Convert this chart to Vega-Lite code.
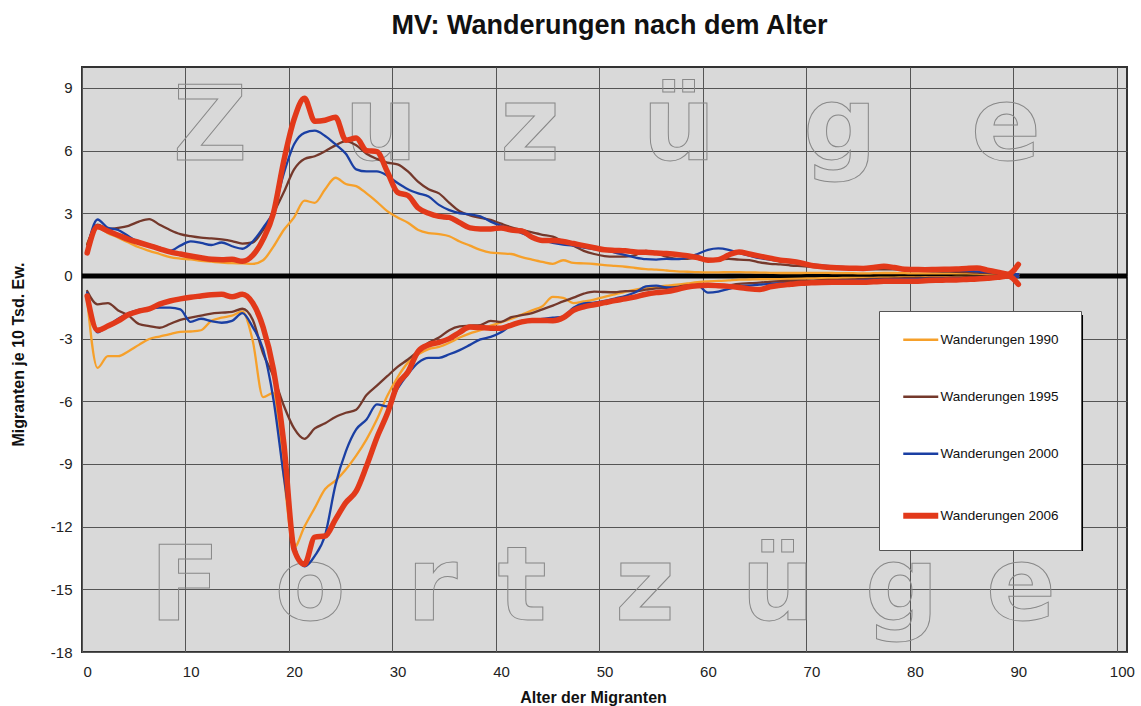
{
"$schema":"https://vega.github.io/schema/vega-lite/v6.json",
"width":1045,"height":585,
"autosize":"none",
"padding":{"left":82,"top":67,"right":14,"bottom":54},
"background":"#ffffff",
"title":{"text":"MV: Wanderungen nach dem Alter","fontSize":27,"fontWeight":"bold","font":"Liberation Sans","color":"#111111","anchor":"middle","offset":27,"dx":5},
"config":{"view":{"fill":"#d9d9d9","stroke":"#333333","strokeWidth":2},"font":"Liberation Sans",
 "axis":{"ticks":false,"domain":false,"grid":true,"gridColor":"#555555","gridWidth":1,"gridOpacity":1,"labelFont":"Liberation Sans","labelFontSize":15,"labelColor":"#222222","titleFont":"Liberation Sans","titleFontSize":16,"titleFontWeight":"bold","titleColor":"#111111"}},
"datasets":{
"wm":[
{"t":"Z","a":11.87,"v":5.55},{"t":"u","a":28.4,"v":5.55},{"t":"z","a":42.8,"v":5.55},{"t":"ü","a":57.2,"v":5.55},{"t":"g","a":72.76,"v":5.55},{"t":"e","a":88.8,"v":5.55},
{"t":"F","a":9.45,"v":-16.47},{"t":"o","a":21.54,"v":-16.47},{"t":"r","a":33.33,"v":-16.47},{"t":"t","a":42.03,"v":-16.47},{"t":"z","a":53.9,"v":-16.47},{"t":"ü","a":66.77,"v":-16.47},{"t":"g","a":78.75,"v":-16.47},{"t":"e","a":90.25,"v":-16.47}
],
"m":[
{"a":0,"s":"1990","r":"Z","v":1.55},{"a":1,"s":"1990","r":"Z","v":2.3},{"a":2,"s":"1990","r":"Z","v":2.05},{"a":3,"s":"1990","r":"Z","v":1.83},{"a":4,"s":"1990","r":"Z","v":1.6},{"a":5,"s":"1990","r":"Z","v":1.37},{"a":6,"s":"1990","r":"Z","v":1.2},{"a":7,"s":"1990","r":"Z","v":1.05},{"a":8,"s":"1990","r":"Z","v":0.9},{"a":9,"s":"1990","r":"Z","v":0.83},
{"a":10,"s":"1990","r":"Z","v":0.79},{"a":11,"s":"1990","r":"Z","v":0.72},{"a":12,"s":"1990","r":"Z","v":0.68},{"a":13,"s":"1990","r":"Z","v":0.64},{"a":14,"s":"1990","r":"Z","v":0.61},{"a":15,"s":"1990","r":"Z","v":0.6},{"a":16,"s":"1990","r":"Z","v":0.58},{"a":17,"s":"1990","r":"Z","v":0.75},{"a":18,"s":"1990","r":"Z","v":1.4},{"a":19,"s":"1990","r":"Z","v":2.2},
{"a":20,"s":"1990","r":"Z","v":2.8},{"a":21,"s":"1990","r":"Z","v":3.6},{"a":22,"s":"1990","r":"Z","v":3.5},{"a":23,"s":"1990","r":"Z","v":4.15},{"a":24,"s":"1990","r":"Z","v":4.7},{"a":25,"s":"1990","r":"Z","v":4.4},{"a":26,"s":"1990","r":"Z","v":4.3},{"a":27,"s":"1990","r":"Z","v":3.95},{"a":28,"s":"1990","r":"Z","v":3.55},{"a":29,"s":"1990","r":"Z","v":3.1},
{"a":30,"s":"1990","r":"Z","v":2.8},{"a":31,"s":"1990","r":"Z","v":2.55},{"a":32,"s":"1990","r":"Z","v":2.2},{"a":33,"s":"1990","r":"Z","v":2.05},{"a":34,"s":"1990","r":"Z","v":2.0},{"a":35,"s":"1990","r":"Z","v":1.9},{"a":36,"s":"1990","r":"Z","v":1.65},{"a":37,"s":"1990","r":"Z","v":1.45},{"a":38,"s":"1990","r":"Z","v":1.25},{"a":39,"s":"1990","r":"Z","v":1.12},
{"a":40,"s":"1990","r":"Z","v":1.08},{"a":41,"s":"1990","r":"Z","v":1.05},{"a":42,"s":"1990","r":"Z","v":0.9},{"a":43,"s":"1990","r":"Z","v":0.78},{"a":44,"s":"1990","r":"Z","v":0.67},{"a":45,"s":"1990","r":"Z","v":0.58},{"a":46,"s":"1990","r":"Z","v":0.75},{"a":47,"s":"1990","r":"Z","v":0.62},{"a":48,"s":"1990","r":"Z","v":0.6},{"a":49,"s":"1990","r":"Z","v":0.57},
{"a":50,"s":"1990","r":"Z","v":0.52},{"a":51,"s":"1990","r":"Z","v":0.48},{"a":52,"s":"1990","r":"Z","v":0.44},{"a":53,"s":"1990","r":"Z","v":0.38},{"a":54,"s":"1990","r":"Z","v":0.33},{"a":55,"s":"1990","r":"Z","v":0.3},{"a":56,"s":"1990","r":"Z","v":0.26},{"a":57,"s":"1990","r":"Z","v":0.22},{"a":58,"s":"1990","r":"Z","v":0.2},{"a":59,"s":"1990","r":"Z","v":0.18},
{"a":60,"s":"1990","r":"Z","v":0.17},{"a":61,"s":"1990","r":"Z","v":0.17},{"a":62,"s":"1990","r":"Z","v":0.18},{"a":63,"s":"1990","r":"Z","v":0.18},{"a":64,"s":"1990","r":"Z","v":0.17},{"a":65,"s":"1990","r":"Z","v":0.16},{"a":66,"s":"1990","r":"Z","v":0.15},{"a":67,"s":"1990","r":"Z","v":0.14},{"a":68,"s":"1990","r":"Z","v":0.14},{"a":69,"s":"1990","r":"Z","v":0.14},
{"a":70,"s":"1990","r":"Z","v":0.15},{"a":71,"s":"1990","r":"Z","v":0.15},{"a":72,"s":"1990","r":"Z","v":0.14},{"a":73,"s":"1990","r":"Z","v":0.13},{"a":74,"s":"1990","r":"Z","v":0.13},{"a":75,"s":"1990","r":"Z","v":0.12},{"a":76,"s":"1990","r":"Z","v":0.13},{"a":77,"s":"1990","r":"Z","v":0.14},{"a":78,"s":"1990","r":"Z","v":0.14},{"a":79,"s":"1990","r":"Z","v":0.13},
{"a":80,"s":"1990","r":"Z","v":0.12},{"a":81,"s":"1990","r":"Z","v":0.12},{"a":82,"s":"1990","r":"Z","v":0.12},{"a":83,"s":"1990","r":"Z","v":0.12},{"a":84,"s":"1990","r":"Z","v":0.12},{"a":85,"s":"1990","r":"Z","v":0.12},{"a":86,"s":"1990","r":"Z","v":0.11},{"a":87,"s":"1990","r":"Z","v":0.1},{"a":88,"s":"1990","r":"Z","v":0.09},{"a":89,"s":"1990","r":"Z","v":0.08},{"a":90,"s":"1990","r":"Z","v":0.07},
{"a":0,"s":"1990","r":"F","v":-1.12},{"a":1,"s":"1990","r":"F","v":-4.4},{"a":2,"s":"1990","r":"F","v":-3.84},{"a":3,"s":"1990","r":"F","v":-3.84},{"a":4,"s":"1990","r":"F","v":-3.6},{"a":5,"s":"1990","r":"F","v":-3.3},{"a":6,"s":"1990","r":"F","v":-3.02},{"a":7,"s":"1990","r":"F","v":-2.9},{"a":8,"s":"1990","r":"F","v":-2.78},{"a":9,"s":"1990","r":"F","v":-2.68},
{"a":10,"s":"1990","r":"F","v":-2.66},{"a":11,"s":"1990","r":"F","v":-2.6},{"a":12,"s":"1990","r":"F","v":-2.15},{"a":13,"s":"1990","r":"F","v":-2.0},{"a":14,"s":"1990","r":"F","v":-1.9},{"a":15,"s":"1990","r":"F","v":-1.7},{"a":16,"s":"1990","r":"F","v":-3.1},{"a":17,"s":"1990","r":"F","v":-5.8},{"a":18,"s":"1990","r":"F","v":-5.6},{"a":19,"s":"1990","r":"F","v":-9.6},
{"a":20,"s":"1990","r":"F","v":-13.0},{"a":21,"s":"1990","r":"F","v":-12.0},{"a":22,"s":"1990","r":"F","v":-11.1},{"a":23,"s":"1990","r":"F","v":-10.2},{"a":24,"s":"1990","r":"F","v":-9.8},{"a":25,"s":"1990","r":"F","v":-9.26},{"a":26,"s":"1990","r":"F","v":-8.6},{"a":27,"s":"1990","r":"F","v":-7.82},{"a":28,"s":"1990","r":"F","v":-6.87},{"a":29,"s":"1990","r":"F","v":-5.75},
{"a":30,"s":"1990","r":"F","v":-4.85},{"a":31,"s":"1990","r":"F","v":-4.15},{"a":32,"s":"1990","r":"F","v":-3.75},{"a":33,"s":"1990","r":"F","v":-3.5},{"a":34,"s":"1990","r":"F","v":-3.4},{"a":35,"s":"1990","r":"F","v":-3.2},{"a":36,"s":"1990","r":"F","v":-2.95},{"a":37,"s":"1990","r":"F","v":-2.75},{"a":38,"s":"1990","r":"F","v":-2.6},{"a":39,"s":"1990","r":"F","v":-2.38},
{"a":40,"s":"1990","r":"F","v":-2.22},{"a":41,"s":"1990","r":"F","v":-2.05},{"a":42,"s":"1990","r":"F","v":-1.85},{"a":43,"s":"1990","r":"F","v":-1.65},{"a":44,"s":"1990","r":"F","v":-1.45},{"a":45,"s":"1990","r":"F","v":-1.0},{"a":46,"s":"1990","r":"F","v":-1.05},{"a":47,"s":"1990","r":"F","v":-1.3},{"a":48,"s":"1990","r":"F","v":-1.22},{"a":49,"s":"1990","r":"F","v":-1.13},
{"a":50,"s":"1990","r":"F","v":-1.0},{"a":51,"s":"1990","r":"F","v":-0.88},{"a":52,"s":"1990","r":"F","v":-0.76},{"a":53,"s":"1990","r":"F","v":-0.65},{"a":54,"s":"1990","r":"F","v":-0.57},{"a":55,"s":"1990","r":"F","v":-0.52},{"a":56,"s":"1990","r":"F","v":-0.47},{"a":57,"s":"1990","r":"F","v":-0.42},{"a":58,"s":"1990","r":"F","v":-0.36},{"a":59,"s":"1990","r":"F","v":-0.3},
{"a":60,"s":"1990","r":"F","v":-0.26},{"a":61,"s":"1990","r":"F","v":-0.24},{"a":62,"s":"1990","r":"F","v":-0.21},{"a":63,"s":"1990","r":"F","v":-0.18},{"a":64,"s":"1990","r":"F","v":-0.17},{"a":65,"s":"1990","r":"F","v":-0.16},{"a":66,"s":"1990","r":"F","v":-0.16},{"a":67,"s":"1990","r":"F","v":-0.15},{"a":68,"s":"1990","r":"F","v":-0.14},{"a":69,"s":"1990","r":"F","v":-0.13},
{"a":70,"s":"1990","r":"F","v":-0.12},{"a":71,"s":"1990","r":"F","v":-0.11},{"a":72,"s":"1990","r":"F","v":-0.11},{"a":73,"s":"1990","r":"F","v":-0.1},{"a":74,"s":"1990","r":"F","v":-0.1},{"a":75,"s":"1990","r":"F","v":-0.09},{"a":76,"s":"1990","r":"F","v":-0.09},{"a":77,"s":"1990","r":"F","v":-0.08},{"a":78,"s":"1990","r":"F","v":-0.08},{"a":79,"s":"1990","r":"F","v":-0.07},
{"a":80,"s":"1990","r":"F","v":-0.07},{"a":81,"s":"1990","r":"F","v":-0.06},{"a":82,"s":"1990","r":"F","v":-0.06},{"a":83,"s":"1990","r":"F","v":-0.06},{"a":84,"s":"1990","r":"F","v":-0.05},{"a":85,"s":"1990","r":"F","v":-0.05},{"a":86,"s":"1990","r":"F","v":-0.05},{"a":87,"s":"1990","r":"F","v":-0.04},{"a":88,"s":"1990","r":"F","v":-0.04},{"a":89,"s":"1990","r":"F","v":-0.03},{"a":90,"s":"1990","r":"F","v":-0.03},
{"a":0,"s":"1995","r":"Z","v":1.5},{"a":1,"s":"1995","r":"Z","v":2.45},{"a":2,"s":"1995","r":"Z","v":2.25},{"a":3,"s":"1995","r":"Z","v":2.3},{"a":4,"s":"1995","r":"Z","v":2.4},{"a":5,"s":"1995","r":"Z","v":2.6},{"a":6,"s":"1995","r":"Z","v":2.72},{"a":7,"s":"1995","r":"Z","v":2.45},{"a":8,"s":"1995","r":"Z","v":2.2},{"a":9,"s":"1995","r":"Z","v":2.0},
{"a":10,"s":"1995","r":"Z","v":1.9},{"a":11,"s":"1995","r":"Z","v":1.83},{"a":12,"s":"1995","r":"Z","v":1.8},{"a":13,"s":"1995","r":"Z","v":1.75},{"a":14,"s":"1995","r":"Z","v":1.67},{"a":15,"s":"1995","r":"Z","v":1.55},{"a":16,"s":"1995","r":"Z","v":1.6},{"a":17,"s":"1995","r":"Z","v":2.2},{"a":18,"s":"1995","r":"Z","v":3.0},{"a":19,"s":"1995","r":"Z","v":4.0},
{"a":20,"s":"1995","r":"Z","v":5.1},{"a":21,"s":"1995","r":"Z","v":5.6},{"a":22,"s":"1995","r":"Z","v":5.73},{"a":23,"s":"1995","r":"Z","v":5.97},{"a":24,"s":"1995","r":"Z","v":6.25},{"a":25,"s":"1995","r":"Z","v":6.45},{"a":26,"s":"1995","r":"Z","v":6.25},{"a":27,"s":"1995","r":"Z","v":5.85},{"a":28,"s":"1995","r":"Z","v":5.6},{"a":29,"s":"1995","r":"Z","v":5.42},
{"a":30,"s":"1995","r":"Z","v":5.34},{"a":31,"s":"1995","r":"Z","v":5.0},{"a":32,"s":"1995","r":"Z","v":4.5},{"a":33,"s":"1995","r":"Z","v":4.15},{"a":34,"s":"1995","r":"Z","v":3.95},{"a":35,"s":"1995","r":"Z","v":3.5},{"a":36,"s":"1995","r":"Z","v":3.1},{"a":37,"s":"1995","r":"Z","v":2.9},{"a":38,"s":"1995","r":"Z","v":2.78},{"a":39,"s":"1995","r":"Z","v":2.68},
{"a":40,"s":"1995","r":"Z","v":2.5},{"a":41,"s":"1995","r":"Z","v":2.33},{"a":42,"s":"1995","r":"Z","v":2.2},{"a":43,"s":"1995","r":"Z","v":2.08},{"a":44,"s":"1995","r":"Z","v":1.97},{"a":45,"s":"1995","r":"Z","v":1.88},{"a":46,"s":"1995","r":"Z","v":1.65},{"a":47,"s":"1995","r":"Z","v":1.45},{"a":48,"s":"1995","r":"Z","v":1.2},{"a":49,"s":"1995","r":"Z","v":1.05},
{"a":50,"s":"1995","r":"Z","v":0.95},{"a":51,"s":"1995","r":"Z","v":0.92},{"a":52,"s":"1995","r":"Z","v":0.93},{"a":53,"s":"1995","r":"Z","v":1.0},{"a":54,"s":"1995","r":"Z","v":1.2},{"a":55,"s":"1995","r":"Z","v":1.1},{"a":56,"s":"1995","r":"Z","v":0.92},{"a":57,"s":"1995","r":"Z","v":0.82},{"a":58,"s":"1995","r":"Z","v":0.82},{"a":59,"s":"1995","r":"Z","v":0.88},
{"a":60,"s":"1995","r":"Z","v":0.82},{"a":61,"s":"1995","r":"Z","v":0.8},{"a":62,"s":"1995","r":"Z","v":0.82},{"a":63,"s":"1995","r":"Z","v":0.78},{"a":64,"s":"1995","r":"Z","v":0.76},{"a":65,"s":"1995","r":"Z","v":0.65},{"a":66,"s":"1995","r":"Z","v":0.58},{"a":67,"s":"1995","r":"Z","v":0.55},{"a":68,"s":"1995","r":"Z","v":0.5},{"a":69,"s":"1995","r":"Z","v":0.47},
{"a":70,"s":"1995","r":"Z","v":0.44},{"a":71,"s":"1995","r":"Z","v":0.42},{"a":72,"s":"1995","r":"Z","v":0.4},{"a":73,"s":"1995","r":"Z","v":0.38},{"a":74,"s":"1995","r":"Z","v":0.35},{"a":75,"s":"1995","r":"Z","v":0.33},{"a":76,"s":"1995","r":"Z","v":0.32},{"a":77,"s":"1995","r":"Z","v":0.32},{"a":78,"s":"1995","r":"Z","v":0.32},{"a":79,"s":"1995","r":"Z","v":0.3},
{"a":80,"s":"1995","r":"Z","v":0.26},{"a":81,"s":"1995","r":"Z","v":0.24},{"a":82,"s":"1995","r":"Z","v":0.22},{"a":83,"s":"1995","r":"Z","v":0.21},{"a":84,"s":"1995","r":"Z","v":0.2},{"a":85,"s":"1995","r":"Z","v":0.18},{"a":86,"s":"1995","r":"Z","v":0.16},{"a":87,"s":"1995","r":"Z","v":0.13},{"a":88,"s":"1995","r":"Z","v":0.1},{"a":89,"s":"1995","r":"Z","v":0.08},{"a":90,"s":"1995","r":"Z","v":0.06},
{"a":0,"s":"1995","r":"F","v":-0.72},{"a":1,"s":"1995","r":"F","v":-1.36},{"a":2,"s":"1995","r":"F","v":-1.3},{"a":3,"s":"1995","r":"F","v":-1.65},{"a":4,"s":"1995","r":"F","v":-1.9},{"a":5,"s":"1995","r":"F","v":-2.3},{"a":6,"s":"1995","r":"F","v":-2.4},{"a":7,"s":"1995","r":"F","v":-2.48},{"a":8,"s":"1995","r":"F","v":-2.3},{"a":9,"s":"1995","r":"F","v":-2.1},
{"a":10,"s":"1995","r":"F","v":-2.0},{"a":11,"s":"1995","r":"F","v":-1.9},{"a":12,"s":"1995","r":"F","v":-1.8},{"a":13,"s":"1995","r":"F","v":-1.76},{"a":14,"s":"1995","r":"F","v":-1.72},{"a":15,"s":"1995","r":"F","v":-1.57},{"a":16,"s":"1995","r":"F","v":-2.1},{"a":17,"s":"1995","r":"F","v":-3.7},{"a":18,"s":"1995","r":"F","v":-4.8},{"a":19,"s":"1995","r":"F","v":-6.2},
{"a":20,"s":"1995","r":"F","v":-7.3},{"a":21,"s":"1995","r":"F","v":-7.8},{"a":22,"s":"1995","r":"F","v":-7.3},{"a":23,"s":"1995","r":"F","v":-7.05},{"a":24,"s":"1995","r":"F","v":-6.75},{"a":25,"s":"1995","r":"F","v":-6.55},{"a":26,"s":"1995","r":"F","v":-6.4},{"a":27,"s":"1995","r":"F","v":-5.7},{"a":28,"s":"1995","r":"F","v":-5.25},{"a":29,"s":"1995","r":"F","v":-4.8},
{"a":30,"s":"1995","r":"F","v":-4.35},{"a":31,"s":"1995","r":"F","v":-4.0},{"a":32,"s":"1995","r":"F","v":-3.6},{"a":33,"s":"1995","r":"F","v":-3.2},{"a":34,"s":"1995","r":"F","v":-2.95},{"a":35,"s":"1995","r":"F","v":-2.6},{"a":36,"s":"1995","r":"F","v":-2.42},{"a":37,"s":"1995","r":"F","v":-2.38},{"a":38,"s":"1995","r":"F","v":-2.35},{"a":39,"s":"1995","r":"F","v":-2.15},
{"a":40,"s":"1995","r":"F","v":-2.2},{"a":41,"s":"1995","r":"F","v":-1.97},{"a":42,"s":"1995","r":"F","v":-1.88},{"a":43,"s":"1995","r":"F","v":-1.78},{"a":44,"s":"1995","r":"F","v":-1.6},{"a":45,"s":"1995","r":"F","v":-1.42},{"a":46,"s":"1995","r":"F","v":-1.22},{"a":47,"s":"1995","r":"F","v":-1.04},{"a":48,"s":"1995","r":"F","v":-0.85},{"a":49,"s":"1995","r":"F","v":-0.75},
{"a":50,"s":"1995","r":"F","v":-0.77},{"a":51,"s":"1995","r":"F","v":-0.78},{"a":52,"s":"1995","r":"F","v":-0.73},{"a":53,"s":"1995","r":"F","v":-0.73},{"a":54,"s":"1995","r":"F","v":-0.66},{"a":55,"s":"1995","r":"F","v":-0.6},{"a":56,"s":"1995","r":"F","v":-0.57},{"a":57,"s":"1995","r":"F","v":-0.52},{"a":58,"s":"1995","r":"F","v":-0.45},{"a":59,"s":"1995","r":"F","v":-0.45},
{"a":60,"s":"1995","r":"F","v":-0.52},{"a":61,"s":"1995","r":"F","v":-0.52},{"a":62,"s":"1995","r":"F","v":-0.45},{"a":63,"s":"1995","r":"F","v":-0.38},{"a":64,"s":"1995","r":"F","v":-0.35},{"a":65,"s":"1995","r":"F","v":-0.32},{"a":66,"s":"1995","r":"F","v":-0.28},{"a":67,"s":"1995","r":"F","v":-0.25},{"a":68,"s":"1995","r":"F","v":-0.24},{"a":69,"s":"1995","r":"F","v":-0.23},
{"a":70,"s":"1995","r":"F","v":-0.22},{"a":71,"s":"1995","r":"F","v":-0.2},{"a":72,"s":"1995","r":"F","v":-0.19},{"a":73,"s":"1995","r":"F","v":-0.18},{"a":74,"s":"1995","r":"F","v":-0.17},{"a":75,"s":"1995","r":"F","v":-0.15},{"a":76,"s":"1995","r":"F","v":-0.14},{"a":77,"s":"1995","r":"F","v":-0.13},{"a":78,"s":"1995","r":"F","v":-0.12},{"a":79,"s":"1995","r":"F","v":-0.11},
{"a":80,"s":"1995","r":"F","v":-0.1},{"a":81,"s":"1995","r":"F","v":-0.09},{"a":82,"s":"1995","r":"F","v":-0.08},{"a":83,"s":"1995","r":"F","v":-0.08},{"a":84,"s":"1995","r":"F","v":-0.07},{"a":85,"s":"1995","r":"F","v":-0.06},{"a":86,"s":"1995","r":"F","v":-0.05},{"a":87,"s":"1995","r":"F","v":-0.05},{"a":88,"s":"1995","r":"F","v":-0.04},{"a":89,"s":"1995","r":"F","v":-0.03},{"a":90,"s":"1995","r":"F","v":-0.03},
{"a":0,"s":"2000","r":"Z","v":1.27},{"a":1,"s":"2000","r":"Z","v":2.7},{"a":2,"s":"2000","r":"Z","v":2.3},{"a":3,"s":"2000","r":"Z","v":2.2},{"a":4,"s":"2000","r":"Z","v":1.9},{"a":5,"s":"2000","r":"Z","v":1.6},{"a":6,"s":"2000","r":"Z","v":1.5},{"a":7,"s":"2000","r":"Z","v":1.35},{"a":8,"s":"2000","r":"Z","v":1.2},{"a":9,"s":"2000","r":"Z","v":1.45},
{"a":10,"s":"2000","r":"Z","v":1.65},{"a":11,"s":"2000","r":"Z","v":1.58},{"a":12,"s":"2000","r":"Z","v":1.48},{"a":13,"s":"2000","r":"Z","v":1.6},{"a":14,"s":"2000","r":"Z","v":1.42},{"a":15,"s":"2000","r":"Z","v":1.3},{"a":16,"s":"2000","r":"Z","v":1.65},{"a":17,"s":"2000","r":"Z","v":2.3},{"a":18,"s":"2000","r":"Z","v":3.1},{"a":19,"s":"2000","r":"Z","v":4.9},
{"a":20,"s":"2000","r":"Z","v":6.3},{"a":21,"s":"2000","r":"Z","v":6.85},{"a":22,"s":"2000","r":"Z","v":6.95},{"a":23,"s":"2000","r":"Z","v":6.7},{"a":24,"s":"2000","r":"Z","v":6.3},{"a":25,"s":"2000","r":"Z","v":5.85},{"a":26,"s":"2000","r":"Z","v":5.1},{"a":27,"s":"2000","r":"Z","v":5.0},{"a":28,"s":"2000","r":"Z","v":5.0},{"a":29,"s":"2000","r":"Z","v":4.8},
{"a":30,"s":"2000","r":"Z","v":4.45},{"a":31,"s":"2000","r":"Z","v":4.15},{"a":32,"s":"2000","r":"Z","v":3.95},{"a":33,"s":"2000","r":"Z","v":3.8},{"a":34,"s":"2000","r":"Z","v":3.4},{"a":35,"s":"2000","r":"Z","v":3.15},{"a":36,"s":"2000","r":"Z","v":3.0},{"a":37,"s":"2000","r":"Z","v":2.95},{"a":38,"s":"2000","r":"Z","v":2.85},{"a":39,"s":"2000","r":"Z","v":2.6},
{"a":40,"s":"2000","r":"Z","v":2.4},{"a":41,"s":"2000","r":"Z","v":2.25},{"a":42,"s":"2000","r":"Z","v":2.05},{"a":43,"s":"2000","r":"Z","v":1.85},{"a":44,"s":"2000","r":"Z","v":1.72},{"a":45,"s":"2000","r":"Z","v":1.58},{"a":46,"s":"2000","r":"Z","v":1.5},{"a":47,"s":"2000","r":"Z","v":1.45},{"a":48,"s":"2000","r":"Z","v":1.35},{"a":49,"s":"2000","r":"Z","v":1.28},
{"a":50,"s":"2000","r":"Z","v":1.22},{"a":51,"s":"2000","r":"Z","v":1.12},{"a":52,"s":"2000","r":"Z","v":1.0},{"a":53,"s":"2000","r":"Z","v":0.88},{"a":54,"s":"2000","r":"Z","v":0.8},{"a":55,"s":"2000","r":"Z","v":0.78},{"a":56,"s":"2000","r":"Z","v":0.82},{"a":57,"s":"2000","r":"Z","v":0.8},{"a":58,"s":"2000","r":"Z","v":0.88},{"a":59,"s":"2000","r":"Z","v":1.05},
{"a":60,"s":"2000","r":"Z","v":1.25},{"a":61,"s":"2000","r":"Z","v":1.32},{"a":62,"s":"2000","r":"Z","v":1.25},{"a":63,"s":"2000","r":"Z","v":1.1},{"a":64,"s":"2000","r":"Z","v":0.97},{"a":65,"s":"2000","r":"Z","v":0.85},{"a":66,"s":"2000","r":"Z","v":0.78},{"a":67,"s":"2000","r":"Z","v":0.7},{"a":68,"s":"2000","r":"Z","v":0.65},{"a":69,"s":"2000","r":"Z","v":0.58},
{"a":70,"s":"2000","r":"Z","v":0.55},{"a":71,"s":"2000","r":"Z","v":0.5},{"a":72,"s":"2000","r":"Z","v":0.47},{"a":73,"s":"2000","r":"Z","v":0.43},{"a":74,"s":"2000","r":"Z","v":0.4},{"a":75,"s":"2000","r":"Z","v":0.37},{"a":76,"s":"2000","r":"Z","v":0.42},{"a":77,"s":"2000","r":"Z","v":0.45},{"a":78,"s":"2000","r":"Z","v":0.38},{"a":79,"s":"2000","r":"Z","v":0.32},
{"a":80,"s":"2000","r":"Z","v":0.3},{"a":81,"s":"2000","r":"Z","v":0.28},{"a":82,"s":"2000","r":"Z","v":0.25},{"a":83,"s":"2000","r":"Z","v":0.26},{"a":84,"s":"2000","r":"Z","v":0.28},{"a":85,"s":"2000","r":"Z","v":0.26},{"a":86,"s":"2000","r":"Z","v":0.22},{"a":87,"s":"2000","r":"Z","v":0.18},{"a":88,"s":"2000","r":"Z","v":0.14},{"a":89,"s":"2000","r":"Z","v":0.1},{"a":90,"s":"2000","r":"Z","v":0.08},
{"a":0,"s":"2000","r":"F","v":-0.8},{"a":1,"s":"2000","r":"F","v":-2.7},{"a":2,"s":"2000","r":"F","v":-2.4},{"a":3,"s":"2000","r":"F","v":-2.05},{"a":4,"s":"2000","r":"F","v":-1.78},{"a":5,"s":"2000","r":"F","v":-1.62},{"a":6,"s":"2000","r":"F","v":-1.56},{"a":7,"s":"2000","r":"F","v":-1.52},{"a":8,"s":"2000","r":"F","v":-1.52},{"a":9,"s":"2000","r":"F","v":-1.6},
{"a":10,"s":"2000","r":"F","v":-2.2},{"a":11,"s":"2000","r":"F","v":-2.05},{"a":12,"s":"2000","r":"F","v":-2.16},{"a":13,"s":"2000","r":"F","v":-2.24},{"a":14,"s":"2000","r":"F","v":-2.15},{"a":15,"s":"2000","r":"F","v":-1.78},{"a":16,"s":"2000","r":"F","v":-2.45},{"a":17,"s":"2000","r":"F","v":-3.5},{"a":18,"s":"2000","r":"F","v":-5.9},{"a":19,"s":"2000","r":"F","v":-9.57},
{"a":20,"s":"2000","r":"F","v":-12.8},{"a":21,"s":"2000","r":"F","v":-13.9},{"a":22,"s":"2000","r":"F","v":-13.4},{"a":23,"s":"2000","r":"F","v":-12.4},{"a":24,"s":"2000","r":"F","v":-10.0},{"a":25,"s":"2000","r":"F","v":-8.4},{"a":26,"s":"2000","r":"F","v":-7.35},{"a":27,"s":"2000","r":"F","v":-6.87},{"a":28,"s":"2000","r":"F","v":-6.15},{"a":29,"s":"2000","r":"F","v":-6.25},
{"a":30,"s":"2000","r":"F","v":-5.4},{"a":31,"s":"2000","r":"F","v":-4.7},{"a":32,"s":"2000","r":"F","v":-4.15},{"a":33,"s":"2000","r":"F","v":-3.92},{"a":34,"s":"2000","r":"F","v":-3.92},{"a":35,"s":"2000","r":"F","v":-3.75},{"a":36,"s":"2000","r":"F","v":-3.55},{"a":37,"s":"2000","r":"F","v":-3.3},{"a":38,"s":"2000","r":"F","v":-3.04},{"a":39,"s":"2000","r":"F","v":-2.92},
{"a":40,"s":"2000","r":"F","v":-2.7},{"a":41,"s":"2000","r":"F","v":-2.35},{"a":42,"s":"2000","r":"F","v":-2.15},{"a":43,"s":"2000","r":"F","v":-2.09},{"a":44,"s":"2000","r":"F","v":-2.06},{"a":45,"s":"2000","r":"F","v":-2.0},{"a":46,"s":"2000","r":"F","v":-1.95},{"a":47,"s":"2000","r":"F","v":-1.52},{"a":48,"s":"2000","r":"F","v":-1.32},{"a":49,"s":"2000","r":"F","v":-1.28},
{"a":50,"s":"2000","r":"F","v":-1.2},{"a":51,"s":"2000","r":"F","v":-1.08},{"a":52,"s":"2000","r":"F","v":-0.96},{"a":53,"s":"2000","r":"F","v":-0.78},{"a":54,"s":"2000","r":"F","v":-0.5},{"a":55,"s":"2000","r":"F","v":-0.46},{"a":56,"s":"2000","r":"F","v":-0.55},{"a":57,"s":"2000","r":"F","v":-0.57},{"a":58,"s":"2000","r":"F","v":-0.5},{"a":59,"s":"2000","r":"F","v":-0.45},
{"a":60,"s":"2000","r":"F","v":-0.8},{"a":61,"s":"2000","r":"F","v":-0.75},{"a":62,"s":"2000","r":"F","v":-0.62},{"a":63,"s":"2000","r":"F","v":-0.5},{"a":64,"s":"2000","r":"F","v":-0.46},{"a":65,"s":"2000","r":"F","v":-0.42},{"a":66,"s":"2000","r":"F","v":-0.38},{"a":67,"s":"2000","r":"F","v":-0.35},{"a":68,"s":"2000","r":"F","v":-0.34},{"a":69,"s":"2000","r":"F","v":-0.33},
{"a":70,"s":"2000","r":"F","v":-0.31},{"a":71,"s":"2000","r":"F","v":-0.28},{"a":72,"s":"2000","r":"F","v":-0.25},{"a":73,"s":"2000","r":"F","v":-0.23},{"a":74,"s":"2000","r":"F","v":-0.22},{"a":75,"s":"2000","r":"F","v":-0.2},{"a":76,"s":"2000","r":"F","v":-0.19},{"a":77,"s":"2000","r":"F","v":-0.18},{"a":78,"s":"2000","r":"F","v":-0.17},{"a":79,"s":"2000","r":"F","v":-0.16},
{"a":80,"s":"2000","r":"F","v":-0.15},{"a":81,"s":"2000","r":"F","v":-0.14},{"a":82,"s":"2000","r":"F","v":-0.13},{"a":83,"s":"2000","r":"F","v":-0.12},{"a":84,"s":"2000","r":"F","v":-0.12},{"a":85,"s":"2000","r":"F","v":-0.11},{"a":86,"s":"2000","r":"F","v":-0.1},{"a":87,"s":"2000","r":"F","v":-0.08},{"a":88,"s":"2000","r":"F","v":-0.06},{"a":89,"s":"2000","r":"F","v":-0.05},{"a":90,"s":"2000","r":"F","v":-0.04},
{"a":0,"s":"2006","r":"Z","v":1.1},{"a":1,"s":"2006","r":"Z","v":2.35},{"a":2,"s":"2006","r":"Z","v":2.15},{"a":3,"s":"2006","r":"Z","v":1.95},{"a":4,"s":"2006","r":"Z","v":1.75},{"a":5,"s":"2006","r":"Z","v":1.6},{"a":6,"s":"2006","r":"Z","v":1.45},{"a":7,"s":"2006","r":"Z","v":1.3},{"a":8,"s":"2006","r":"Z","v":1.15},{"a":9,"s":"2006","r":"Z","v":1.05},
{"a":10,"s":"2006","r":"Z","v":0.95},{"a":11,"s":"2006","r":"Z","v":0.87},{"a":12,"s":"2006","r":"Z","v":0.8},{"a":13,"s":"2006","r":"Z","v":0.78},{"a":14,"s":"2006","r":"Z","v":0.8},{"a":15,"s":"2006","r":"Z","v":0.7},{"a":16,"s":"2006","r":"Z","v":0.98},{"a":17,"s":"2006","r":"Z","v":1.75},{"a":18,"s":"2006","r":"Z","v":3.0},{"a":19,"s":"2006","r":"Z","v":5.5},
{"a":20,"s":"2006","r":"Z","v":7.5},{"a":21,"s":"2006","r":"Z","v":8.5},{"a":22,"s":"2006","r":"Z","v":7.4},{"a":23,"s":"2006","r":"Z","v":7.45},{"a":24,"s":"2006","r":"Z","v":7.6},{"a":25,"s":"2006","r":"Z","v":6.5},{"a":26,"s":"2006","r":"Z","v":6.6},{"a":27,"s":"2006","r":"Z","v":6.0},{"a":28,"s":"2006","r":"Z","v":5.95},{"a":29,"s":"2006","r":"Z","v":5.0},
{"a":30,"s":"2006","r":"Z","v":4.0},{"a":31,"s":"2006","r":"Z","v":3.85},{"a":32,"s":"2006","r":"Z","v":3.25},{"a":33,"s":"2006","r":"Z","v":3.0},{"a":34,"s":"2006","r":"Z","v":2.85},{"a":35,"s":"2006","r":"Z","v":2.8},{"a":36,"s":"2006","r":"Z","v":2.55},{"a":37,"s":"2006","r":"Z","v":2.3},{"a":38,"s":"2006","r":"Z","v":2.25},{"a":39,"s":"2006","r":"Z","v":2.25},
{"a":40,"s":"2006","r":"Z","v":2.3},{"a":41,"s":"2006","r":"Z","v":2.2},{"a":42,"s":"2006","r":"Z","v":2.15},{"a":43,"s":"2006","r":"Z","v":1.85},{"a":44,"s":"2006","r":"Z","v":1.7},{"a":45,"s":"2006","r":"Z","v":1.7},{"a":46,"s":"2006","r":"Z","v":1.65},{"a":47,"s":"2006","r":"Z","v":1.55},{"a":48,"s":"2006","r":"Z","v":1.45},{"a":49,"s":"2006","r":"Z","v":1.35},
{"a":50,"s":"2006","r":"Z","v":1.25},{"a":51,"s":"2006","r":"Z","v":1.22},{"a":52,"s":"2006","r":"Z","v":1.2},{"a":53,"s":"2006","r":"Z","v":1.15},{"a":54,"s":"2006","r":"Z","v":1.13},{"a":55,"s":"2006","r":"Z","v":1.1},{"a":56,"s":"2006","r":"Z","v":1.07},{"a":57,"s":"2006","r":"Z","v":1.03},{"a":58,"s":"2006","r":"Z","v":0.97},{"a":59,"s":"2006","r":"Z","v":0.88},
{"a":60,"s":"2006","r":"Z","v":0.75},{"a":61,"s":"2006","r":"Z","v":0.78},{"a":62,"s":"2006","r":"Z","v":1.0},{"a":63,"s":"2006","r":"Z","v":1.15},{"a":64,"s":"2006","r":"Z","v":1.05},{"a":65,"s":"2006","r":"Z","v":0.95},{"a":66,"s":"2006","r":"Z","v":0.85},{"a":67,"s":"2006","r":"Z","v":0.75},{"a":68,"s":"2006","r":"Z","v":0.7},{"a":69,"s":"2006","r":"Z","v":0.62},
{"a":70,"s":"2006","r":"Z","v":0.5},{"a":71,"s":"2006","r":"Z","v":0.44},{"a":72,"s":"2006","r":"Z","v":0.4},{"a":73,"s":"2006","r":"Z","v":0.38},{"a":74,"s":"2006","r":"Z","v":0.37},{"a":75,"s":"2006","r":"Z","v":0.36},{"a":76,"s":"2006","r":"Z","v":0.4},{"a":77,"s":"2006","r":"Z","v":0.46},{"a":78,"s":"2006","r":"Z","v":0.4},{"a":79,"s":"2006","r":"Z","v":0.32},
{"a":80,"s":"2006","r":"Z","v":0.31},{"a":81,"s":"2006","r":"Z","v":0.3},{"a":82,"s":"2006","r":"Z","v":0.31},{"a":83,"s":"2006","r":"Z","v":0.32},{"a":84,"s":"2006","r":"Z","v":0.33},{"a":85,"s":"2006","r":"Z","v":0.36},{"a":86,"s":"2006","r":"Z","v":0.38},{"a":87,"s":"2006","r":"Z","v":0.28},{"a":88,"s":"2006","r":"Z","v":0.18},{"a":89,"s":"2006","r":"Z","v":0.08},{"a":90,"s":"2006","r":"Z","v":0.55},
{"a":0,"s":"2006","r":"F","v":-0.96},{"a":1,"s":"2006","r":"F","v":-2.6},{"a":2,"s":"2006","r":"F","v":-2.4},{"a":3,"s":"2006","r":"F","v":-2.15},{"a":4,"s":"2006","r":"F","v":-1.85},{"a":5,"s":"2006","r":"F","v":-1.68},{"a":6,"s":"2006","r":"F","v":-1.58},{"a":7,"s":"2006","r":"F","v":-1.35},{"a":8,"s":"2006","r":"F","v":-1.2},{"a":9,"s":"2006","r":"F","v":-1.1},
{"a":10,"s":"2006","r":"F","v":-1.02},{"a":11,"s":"2006","r":"F","v":-0.96},{"a":12,"s":"2006","r":"F","v":-0.9},{"a":13,"s":"2006","r":"F","v":-0.88},{"a":14,"s":"2006","r":"F","v":-1.0},{"a":15,"s":"2006","r":"F","v":-0.88},{"a":16,"s":"2006","r":"F","v":-1.3},{"a":17,"s":"2006","r":"F","v":-2.45},{"a":18,"s":"2006","r":"F","v":-4.47},{"a":19,"s":"2006","r":"F","v":-7.98},
{"a":20,"s":"2006","r":"F","v":-13.1},{"a":21,"s":"2006","r":"F","v":-13.8},{"a":22,"s":"2006","r":"F","v":-12.5},{"a":23,"s":"2006","r":"F","v":-12.45},{"a":24,"s":"2006","r":"F","v":-11.65},{"a":25,"s":"2006","r":"F","v":-10.85},{"a":26,"s":"2006","r":"F","v":-10.3},{"a":27,"s":"2006","r":"F","v":-9.1},{"a":28,"s":"2006","r":"F","v":-7.74},{"a":29,"s":"2006","r":"F","v":-6.6},
{"a":30,"s":"2006","r":"F","v":-5.2},{"a":31,"s":"2006","r":"F","v":-4.6},{"a":32,"s":"2006","r":"F","v":-3.6},{"a":33,"s":"2006","r":"F","v":-3.3},{"a":34,"s":"2006","r":"F","v":-3.18},{"a":35,"s":"2006","r":"F","v":-3.0},{"a":36,"s":"2006","r":"F","v":-2.7},{"a":37,"s":"2006","r":"F","v":-2.45},{"a":38,"s":"2006","r":"F","v":-2.47},{"a":39,"s":"2006","r":"F","v":-2.5},
{"a":40,"s":"2006","r":"F","v":-2.5},{"a":41,"s":"2006","r":"F","v":-2.35},{"a":42,"s":"2006","r":"F","v":-2.2},{"a":43,"s":"2006","r":"F","v":-2.13},{"a":44,"s":"2006","r":"F","v":-2.13},{"a":45,"s":"2006","r":"F","v":-2.14},{"a":46,"s":"2006","r":"F","v":-2.0},{"a":47,"s":"2006","r":"F","v":-1.65},{"a":48,"s":"2006","r":"F","v":-1.48},{"a":49,"s":"2006","r":"F","v":-1.38},
{"a":50,"s":"2006","r":"F","v":-1.28},{"a":51,"s":"2006","r":"F","v":-1.18},{"a":52,"s":"2006","r":"F","v":-1.1},{"a":53,"s":"2006","r":"F","v":-1.0},{"a":54,"s":"2006","r":"F","v":-0.88},{"a":55,"s":"2006","r":"F","v":-0.8},{"a":56,"s":"2006","r":"F","v":-0.75},{"a":57,"s":"2006","r":"F","v":-0.65},{"a":58,"s":"2006","r":"F","v":-0.53},{"a":59,"s":"2006","r":"F","v":-0.47},
{"a":60,"s":"2006","r":"F","v":-0.45},{"a":61,"s":"2006","r":"F","v":-0.47},{"a":62,"s":"2006","r":"F","v":-0.5},{"a":63,"s":"2006","r":"F","v":-0.55},{"a":64,"s":"2006","r":"F","v":-0.62},{"a":65,"s":"2006","r":"F","v":-0.65},{"a":66,"s":"2006","r":"F","v":-0.52},{"a":67,"s":"2006","r":"F","v":-0.45},{"a":68,"s":"2006","r":"F","v":-0.4},{"a":69,"s":"2006","r":"F","v":-0.35},
{"a":70,"s":"2006","r":"F","v":-0.33},{"a":71,"s":"2006","r":"F","v":-0.31},{"a":72,"s":"2006","r":"F","v":-0.3},{"a":73,"s":"2006","r":"F","v":-0.3},{"a":74,"s":"2006","r":"F","v":-0.3},{"a":75,"s":"2006","r":"F","v":-0.3},{"a":76,"s":"2006","r":"F","v":-0.28},{"a":77,"s":"2006","r":"F","v":-0.26},{"a":78,"s":"2006","r":"F","v":-0.25},{"a":79,"s":"2006","r":"F","v":-0.25},
{"a":80,"s":"2006","r":"F","v":-0.25},{"a":81,"s":"2006","r":"F","v":-0.23},{"a":82,"s":"2006","r":"F","v":-0.21},{"a":83,"s":"2006","r":"F","v":-0.2},{"a":84,"s":"2006","r":"F","v":-0.19},{"a":85,"s":"2006","r":"F","v":-0.17},{"a":86,"s":"2006","r":"F","v":-0.15},{"a":87,"s":"2006","r":"F","v":-0.11},{"a":88,"s":"2006","r":"F","v":-0.07},{"a":89,"s":"2006","r":"F","v":0.0},{"a":90,"s":"2006","r":"F","v":-0.4}
]},
"layer":[
{"data":{"name":"wm"},
 "mark":{"type":"text","font":"DejaVu Sans","fontWeight":"bold","fontSize":103,"align":"center","baseline":"alphabetic","fill":"transparent","stroke":"#888888","strokeWidth":1},
 "encoding":{"x":{"field":"a","type":"quantitative","title":"Alter der Migranten","scale":{"domain":[-0.5,100.5],"nice":false,"zero":false},
   "axis":{"values":[-0.5,9.5,19.5,29.5,39.5,49.5,59.5,69.5,79.5,89.5,99.5],"labelExpr":"format(datum.value + 0.5, 'd')","labelOffset":5.17,"labelFlush":false,"labelOverlap":false,"labelPadding":12,"titleX":511,"titleY":45,"titleBaseline":"middle","titleAlign":"center"}},
  "y":{"field":"v","type":"quantitative","title":"Migranten je 10 Tsd. Ew.","scale":{"domain":[-18,10],"nice":false,"zero":false},
   "axis":{"values":[-18,-15,-12,-9,-6,-3,0,3,6,9],"labelExpr":"datum.value < 0 ? '-' + abs(datum.value) : '' + datum.value","labelPadding":10,"titleX":-64,"titleY":287,"titleAngle":270,"titleBaseline":"middle","titleAlign":"center"}},
  "text":{"field":"t"}}},
{"data":{"values":[{"z":0}]},
 "mark":{"type":"rule","color":"#000000","strokeWidth":5},
 "encoding":{"y":{"field":"z","type":"quantitative","title":"Migranten je 10 Tsd. Ew."}}},
{"data":{"name":"m"},
 "mark":{"type":"line","interpolate":"monotone","strokeCap":"round","strokeJoin":"round"},
 "encoding":{
  "x":{"field":"a","type":"quantitative","title":"Alter der Migranten"},
  "y":{"field":"v","type":"quantitative","title":"Migranten je 10 Tsd. Ew."},
  "color":{"field":"s","type":"nominal","scale":{"domain":["1990","1995","2000","2006"],"range":["#F6A02A","#74382B","#1A3FA3","#E2391A"]},
   "legend":{"orient":"none","legendX":797,"legendY":244,"title":null,"labelExpr":"'Wanderungen ' + datum.label","fillColor":"#ffffff","strokeColor":"#555555","padding":22,"rowPadding":42,"symbolType":"stroke","symbolSize":1225,"symbolStrokeWidth":2.3,"symbolOffset":13,"labelFont":"Liberation Sans","labelFontSize":13.5,"labelColor":"#111111","labelOffset":13,
    "encode":{"symbols":{"update":{"strokeWidth":{"signal":"datum.value === '2006' ? 6 : 2.3"}}}}}},
  "detail":{"field":"r","type":"nominal"},
  "strokeWidth":{"condition":{"test":"datum.s === '2006'","value":5.5},"value":2.3}
 }},
{"data":{"values":[{"x1":76.92,"x2":96.25,"y1":-1.87,"y2":-13.17}]},
 "mark":{"type":"rect","fill":"#000000"},
 "encoding":{"x":{"field":"x1","type":"quantitative","title":"Alter der Migranten"},"x2":{"field":"x2"},"y":{"field":"y1","type":"quantitative","title":"Migranten je 10 Tsd. Ew."},"y2":{"field":"y2"}}}
]
}
